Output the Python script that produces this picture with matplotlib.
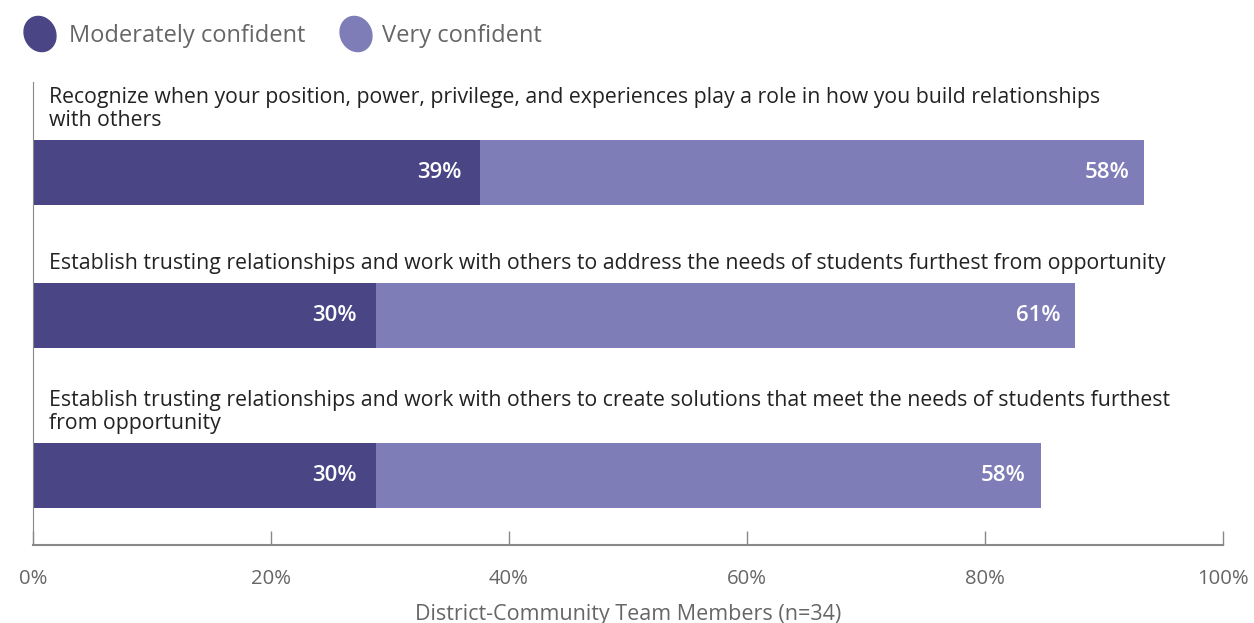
import matplotlib
matplotlib.use("Agg")
import matplotlib.pyplot as plt
from matplotlib.patches import Ellipse

plt.rcParams['font.family'] = ['Open Sans', 'DejaVu Sans']

# data
statements = [
    "Recognize when your position, power, privilege, and experiences play a role in how you build relationships\nwith others",
    "Establish trusting relationships and work with others to address the needs of students furthest from opportunity",
    "Establish trusting relationships and work with others to create solutions that meet the needs of students furthest\nfrom opportunity",
]
moderately = [37.6, 28.8, 28.8]
very = [55.8, 58.8, 55.9]
moderately_labels = ["39%", "30%", "30%"]
very_labels = ["58%", "61%", "58%"]
series_names = ["Moderately confident", "Very confident"]
colors = ["#4a4585", "#7f7db8"]
xticks = [0, 20, 40, 60, 80, 100]

# layout (pixel rows of the bars)
ypos = [172.5, 315.5, 475.5]
bar_h = 65
grey = "#666666"

fig = plt.figure(figsize=(12.54, 6.23), dpi=100)
ax = fig.add_axes([33 / 1254, 1 - 545 / 623, 1190 / 1254, 463 / 623])
ax.set_xlim(0, 100)
ax.set_ylim(545, 82)

ax.barh(ypos, moderately, height=bar_h, color=colors[0])
ax.barh(ypos, very, left=moderately, height=bar_h, color=colors[1])

for y, m, v, ml, vl, s in zip(ypos, moderately, very, moderately_labels, very_labels, statements):
    ax.annotate(ml, (m, y), xytext=(-19, 0), textcoords='offset pixels',
                ha='right', va='center', color='white', fontsize=16, fontweight='semibold')
    ax.annotate(vl, (m + v, y), xytext=(-15, 0), textcoords='offset pixels',
                ha='right', va='center', color='white', fontsize=16, fontweight='semibold')
    ax.annotate(s, (0, y - bar_h / 2), xytext=(16, 9), textcoords='offset pixels',
                ha='left', va='bottom', color='#222222', fontsize=15.3, linespacing=1.12)

for side in ['top', 'right']:
    ax.spines[side].set_visible(False)
ax.spines['left'].set_color('#888888')
ax.spines['bottom'].set_color('#888888')
ax.spines['bottom'].set_linewidth(1.5)
ax.set_yticks([])
ax.set_xticks(xticks)
ax.set_xticklabels([f"{t}%" for t in xticks])
ax.tick_params(axis='x', direction='in', length=10, width=1, color='#888888',
               pad=17, labelsize=14.6, labelcolor=grey)
ax.set_xlabel("District-Community Team Members (n=34)", fontsize=15.5, color=grey, labelpad=11)

# legend with blob markers
for cx, tx, name, c in zip([0.40, 3.56], [0.69, 3.82], series_names, colors):
    fig.patches.append(Ellipse((cx, 5.89), 0.31, 0.36, angle=25, color=c,
                               transform=fig.dpi_scale_trans))
    fig.text(tx / 12.54, 5.87 / 6.23, name, fontsize=17, color=grey, va='center', ha='left')

fig.savefig("out.png", dpi=100)
